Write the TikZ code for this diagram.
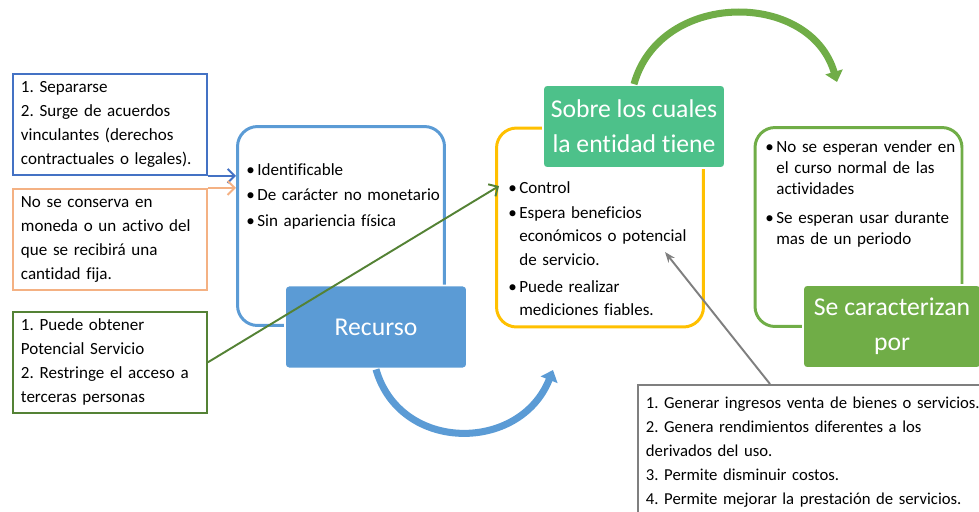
\documentclass[tikz,border=0pt]{standalone}
\usepackage{fontspec}
\setmainfont{Carlito}[Ligatures=NoCommon]
\usetikzlibrary{arrows.meta,positioning}
\frenchspacing

\definecolor{sepblue}{HTML}{4472C4}
\definecolor{consorange}{HTML}{F4B183}
\definecolor{gaingreen}{HTML}{548235}
\definecolor{resblue}{HTML}{5B9BD5}
\definecolor{ctrlyellow}{HTML}{FFC000}
\definecolor{ctrlteal}{HTML}{4DC18A}
\definecolor{chargreen}{HTML}{70AD47}
\definecolor{usegray}{HTML}{7F7F7F}

\newcommand{\smalltxt}{\fontsize{9.7}{13.6}\selectfont}
\newcommand{\bigtxt}{\fontsize{14.6}{19.8}\selectfont}
\newcommand{\itm}[1]{\par\noindent\makebox[0.22cm][l]{\textbullet}\begin{tabular}[t]{@{}l@{}}#1\end{tabular}}

\tikzset{
  notebox/.style={draw=#1, line width=1.1pt, inner xsep=0.16cm, inner ysep=0pt,
    align=left, font=\smalltxt, text width=3.56cm, minimum height=2.02cm},
  roundbox/.style={draw=#1, line width=1.7pt, rounded corners=0.4cm,
    minimum width=4.14cm, minimum height=3.98cm},
  headbox/.style={fill=#1, draw=white, line width=1pt, rounded corners=0.08cm,
    text=white, font=\bigtxt, align=center, minimum width=3.64cm, minimum height=1.66cm},
  bullets/.style={anchor=north west, inner sep=0pt, align=left, text width=3.9cm,
    font={\fontsize{9.7}{13.2}\selectfont\setlength\parskip{1.4pt}}},
  flowarrow/.style={draw=#1, line width=4pt, -{Triangle[length=6pt,width=10pt]}},
  pointer/.style={draw=#1, line width=1.1pt, -{Straight Barb[length=4pt,width=8pt]}}
}

\begin{document}
\begin{tikzpicture}[x=0.02cm, y=-0.02cm]
\useasboundingbox (0,0) rectangle (979,511);
\clip (0,0) rectangle (979,511);

% left notes
\node[notebox=sepblue, anchor=north west] (sep) at (12,73)
  {1. Separarse\\2. Surge de acuerdos\\vinculantes (derechos\\contractuales o legales).};
\node[notebox=consorange, below right=0.24cm and 0cm of sep.south west] (cons)
  {No se conserva en\\moneda o un activo del\\que se recibirá una\\cantidad fija.};
\node[notebox=gaingreen, below right=0.4cm and 0cm of cons.south west] (gain)
  {1. Puede obtener\\Potencial Servicio\\2. Restringe el acceso a\\terceras personas};

% the three bodies
\node[roundbox=resblue] (resbody) at (341,226) {};
\node[roundbox=ctrlyellow] (ctrlbody) at (600,227.5) {};
\node[roundbox=chargreen] (charbody) at (858.5,227) {};

\node[bullets] (restxt) at (246,149)
  {\itm{Identificable}\itm{De carácter no monetario}\itm{Sin apariencia física}};
\node[bullets] (ctrltxt) at (508,167)
  {\itm{Control}\itm{Espera beneficios\\económicos o potencial\\de servicio.}\itm{Puede realizar\\mediciones fiables.}};
\node[bullets, font={\fontsize{9.7}{12}\selectfont\setlength\parskip{3.5pt}}] (chartxt) at (765,125)
  {\itm{No se esperan vender en\\el curso normal de las\\actividades}\itm{Se esperan usar durante\\mas de un periodo}};

\node[headbox=resblue] (res) at (376,327) {Recurso};
\node[headbox=ctrlteal] (ctrl) at (634,126.5) {Sobre los cuales\\la entidad tiene};
\node[headbox=chargreen, minimum width=3.56cm] (char) at (892,326.5) {Se caracterizan\\por};

% uses
\node[draw=usegray, line width=1.1pt, anchor=north west, inner xsep=0.16cm, inner ysep=0.24cm,
  align=left, font=\fontsize{9.5}{13.6}\selectfont, text width=6.9cm] (use) at (637,384)
  {1. Generar ingresos venta de bienes o servicios.\\2. Genera rendimientos diferentes a los\\derivados del uso.\\3. Permite disminuir costos.\\4. Permite mejorar la prestación de servicios.};

% connectors
\coordinate (ctrlin) at (499,186);
\coordinate (usein) at (665,252);
\coordinate (useout) at (770,384);
\coordinate (resend) at (553,370);
\coordinate (ctrlend) at (837,82);

\draw[pointer=sepblue] (sep.south east) -- (sep.south east -| resbody.west);
\draw[pointer=consorange] (cons.north east) -- (cons.north east -| resbody.west);
\draw[pointer=gaingreen] (gain.east) -- (ctrlin);
\draw[draw=usegray, line width=1.1pt, -{Stealth[length=6pt,width=4.5pt]}] (useout) -- (usein);

\draw[flowarrow=resblue] (res.south) .. controls (400,453) and (520,453) .. (resend);
\draw[flowarrow=chargreen] (ctrl.north) .. controls (660,-10) and (810,-10) .. (ctrlend);
\end{tikzpicture}
\end{document}
